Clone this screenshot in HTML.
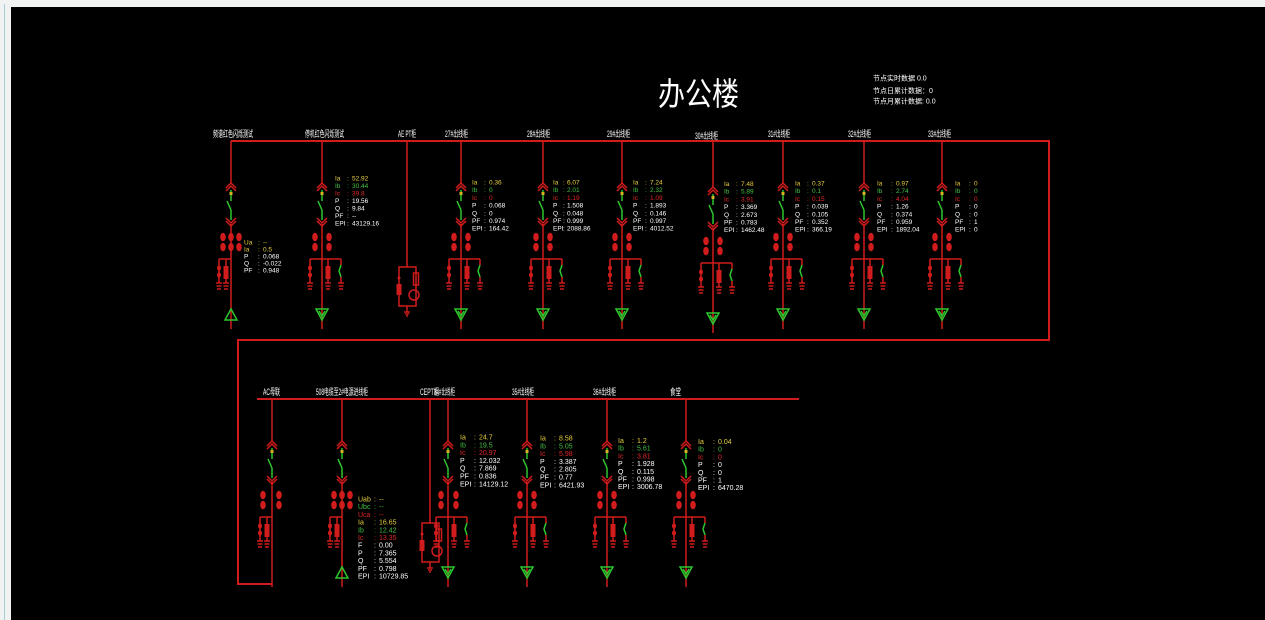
<!DOCTYPE html>
<html><head><meta charset="utf-8">
<style>
html,body{margin:0;padding:0;width:1265px;height:620px;overflow:hidden;background:#f1f2f2;}
svg{display:block;position:absolute;left:0;top:0;}
.r{stroke:#d01c1c;stroke-width:1.5;fill:none}
.b{stroke:#d01c1c;stroke-width:2;fill:none}
.g{stroke:#2ec62e;stroke-width:1.5;fill:none}
.rf{fill:#d01c1c}
text{font-family:"Liberation Sans","Noto Sans CJK SC",sans-serif;}
.y{fill:#e6cf3a}.gn{fill:#45c045}.rd{fill:#e02828}.w{fill:#ffffff}
.lb{fill:#ffffff;font-size:9px}
.t{font-size:6.5px}
.t2{font-size:7px}
</style></head><body>
<svg width="1265" height="620" viewBox="0 0 1265 620" xmlns="http://www.w3.org/2000/svg">
<defs>
<g id="sw">
 <line x1="0" y1="0" x2="0" y2="42" class="r"/>
 <polyline points="-5,47 0,42 5,47" class="r"/>
 <polyline points="-5,50 0,45 5,50" class="r"/>
 <line x1="0" y1="49" x2="0" y2="60" class="g"/>
 <rect x="-1.5" y="51" width="3" height="3" fill="#d8b020"/>
 <line x1="-4" y1="60" x2="0" y2="69" class="g"/>
 <line x1="0" y1="69" x2="0" y2="79" class="g"/>
 <polyline points="-5,77 0,82 5,77" class="r"/>
 <polyline points="-5,80 0,85 5,80" class="r"/>
 <line x1="0" y1="83" x2="0" y2="188" class="r"/>
</g>
<g id="ct" class="rf">
 <ellipse cx="0" cy="96" rx="2.8" ry="4.3"/>
 <ellipse cx="0" cy="106" rx="2.8" ry="4.3"/>
</g>
<g id="gnd">
 <line x1="-3" y1="142" x2="3" y2="142" class="r" stroke-width="1"/>
 <line x1="-2.5" y1="145" x2="2.5" y2="145" class="r" stroke-width="1"/>
 <line x1="-2" y1="148" x2="2" y2="148" class="r" stroke-width="1"/>
</g>
<g id="br">
 <line x1="-12" y1="118" x2="19" y2="118" class="r"/>
 <line x1="-12" y1="118" x2="-12" y2="142" class="r" stroke-width="1"/>
 <ellipse cx="-12" cy="127" rx="2" ry="2.6" class="rf"/>
 <ellipse cx="-12" cy="134" rx="2" ry="2.6" class="rf"/>
 <use href="#gnd" x="-12"/>
 <line x1="6" y1="118" x2="6" y2="142" class="r" stroke-width="1"/>
 <rect x="3.5" y="125" width="5" height="13" class="rf"/>
 <use href="#gnd" x="6"/>
 <line x1="19" y1="118" x2="19" y2="124" class="r" stroke-width="1"/>
 <polyline points="19,124 17,130 19,136" class="g" stroke-width="1"/>
 <line x1="19" y1="136" x2="19" y2="142" class="r" stroke-width="1"/>
 <use href="#gnd" x="19"/>
</g>
<g id="brL">
 <line x1="-12" y1="118" x2="0" y2="118" class="r"/>
 <line x1="-12" y1="118" x2="-12" y2="142" class="r" stroke-width="1"/>
 <ellipse cx="-12" cy="127" rx="2" ry="2.6" class="rf"/>
 <ellipse cx="-12" cy="134" rx="2" ry="2.6" class="rf"/>
 <use href="#gnd" x="-12"/>
 <line x1="-5" y1="118" x2="-5" y2="142" class="r" stroke-width="1"/>
 <rect x="-7.5" y="125" width="5" height="13" class="rf"/>
 <use href="#gnd" x="-5"/>
</g>
<g id="tdn"><polygon points="-6,168 6,168 0,179" class="g"/><polyline points="-3,170 0,175 3,170" class="g" stroke-width="1"/></g>
<g id="tup"><polygon points="-6,179 6,179 0,168" class="g"/></g>
<g id="pt">
 <rect x="-8" y="0" width="17" height="39" class="r" stroke-width="1.2"/>
 <circle cx="-8" cy="11" r="1.5" class="rf"/>
 <rect x="-10.5" y="17" width="5" height="11" class="rf"/>
 <rect x="6.5" y="6" width="5" height="12" class="r" stroke-width="1"/>
 <circle cx="7" cy="28" r="5" class="r" stroke-width="1"/>
 <line x1="0" y1="39" x2="0" y2="45" class="r" stroke-width="1"/>
 <line x1="-3" y1="45" x2="3" y2="45" class="r" stroke-width="1"/>
 <line x1="-2" y1="47" x2="2" y2="47" class="r" stroke-width="1"/>
 <line x1="-1" y1="49" x2="1" y2="49" class="r" stroke-width="1"/>
</g>
</defs>

<rect x="0" y="0" width="1265" height="620" fill="#f1f2f2"/>
<line x1="4.5" y1="4" x2="4.5" y2="620" stroke="#a9cdd6" stroke-width="1"/>
<rect x="11" y="7" width="1254" height="613" fill="#000"/>

<!-- title -->
<text x="658" y="105" font-size="32" fill="#fff" textLength="81" lengthAdjust="spacingAndGlyphs">办公楼</text>
<text x="873" y="80.5" font-size="7" fill="#fff">节点实时数据 0.0</text>
<text x="873" y="93" font-size="7" fill="#fff">节点日累计数据：0</text>
<text x="873" y="103.5" font-size="7" fill="#fff">节点月累计数据: 0.0</text>

<!-- main loop -->
<polyline points="231,141 1049,141 1049,340 238,340 238,584 272,584" class="b"/>
<line x1="257" y1="399" x2="799" y2="399" class="b"/>

<!-- top labels -->
<text class="lb" x="213" y="137" textLength="40" lengthAdjust="spacingAndGlyphs">频谱红色闪烁测试</text>
<text class="lb" x="305" y="137" textLength="39" lengthAdjust="spacingAndGlyphs">停机红色闪烁测试</text>
<text class="lb" x="398" y="137" textLength="18" lengthAdjust="spacingAndGlyphs">AE PT柜</text>
<text class="lb" x="445" y="137" textLength="23" lengthAdjust="spacingAndGlyphs">27#出线柜</text>
<text class="lb" x="527" y="137" textLength="23" lengthAdjust="spacingAndGlyphs">28#出线柜</text>
<text class="lb" x="607" y="137" textLength="23" lengthAdjust="spacingAndGlyphs">29#出线柜</text>
<text class="lb" x="695" y="139" textLength="23" lengthAdjust="spacingAndGlyphs">30#出线柜</text>
<text class="lb" x="768" y="137" textLength="22" lengthAdjust="spacingAndGlyphs">31#出线柜</text>
<text class="lb" x="848" y="137" textLength="23" lengthAdjust="spacingAndGlyphs">32#出线柜</text>
<text class="lb" x="928" y="137" textLength="23" lengthAdjust="spacingAndGlyphs">33#出线柜</text>

<!-- bottom labels -->
<text class="lb" x="263" y="395" textLength="17" lengthAdjust="spacingAndGlyphs">AC母联</text>
<text class="lb" x="316" y="395" textLength="52" lengthAdjust="spacingAndGlyphs">508电缆至2#电源进线柜</text>
<text class="lb" x="420" y="395" textLength="19" lengthAdjust="spacingAndGlyphs">CEPT柜</text>
<text class="lb" x="434" y="395" textLength="21" lengthAdjust="spacingAndGlyphs">34#出线柜</text>
<text class="lb" x="512" y="395" textLength="22" lengthAdjust="spacingAndGlyphs">35#出线柜</text>
<text class="lb" x="593" y="395" textLength="23" lengthAdjust="spacingAndGlyphs">36#出线柜</text>
<text class="lb" x="670" y="395" textLength="11" lengthAdjust="spacingAndGlyphs">食堂</text>

<!-- top feeders -->
<g transform="translate(231,141)"><use href="#sw"/><use href="#ct" x="-8"/><use href="#ct"/><use href="#ct" x="8"/><use href="#brL"/><use href="#tup"/></g>
<g transform="translate(322,141)"><use href="#sw"/><use href="#ct" x="-7"/><use href="#ct" x="7"/><use href="#br"/><use href="#tdn"/></g>
<line x1="407" y1="141" x2="407" y2="267" class="r"/>
<g transform="translate(407,267)"><use href="#pt"/></g>
<g transform="translate(461,141)"><use href="#sw"/><use href="#ct" x="-7"/><use href="#ct" x="7"/><use href="#br"/><use href="#tdn"/></g>
<g transform="translate(543,141)"><use href="#sw"/><use href="#ct" x="-7"/><use href="#ct" x="7"/><use href="#br"/><use href="#tdn"/></g>
<g transform="translate(622,141)"><use href="#sw"/><use href="#ct" x="-7"/><use href="#ct" x="7"/><use href="#br"/><use href="#tdn"/></g>
<line x1="713" y1="141" x2="713" y2="146" class="r"/>
<g transform="translate(713,145)"><use href="#sw"/><use href="#ct" x="-7"/><use href="#ct" x="7"/><use href="#br"/><use href="#tdn"/></g>
<g transform="translate(783,141)"><use href="#sw"/><use href="#ct" x="-7"/><use href="#ct" x="7"/><use href="#br"/><use href="#tdn"/></g>
<g transform="translate(864,141)"><use href="#sw"/><use href="#ct" x="-7"/><use href="#ct" x="7"/><use href="#br"/><use href="#tdn"/></g>
<g transform="translate(942,141)"><use href="#sw"/><use href="#ct" x="-7"/><use href="#ct" x="7"/><use href="#br"/><use href="#tdn"/></g>

<!-- bottom feeders -->
<g transform="translate(272,399)"><use href="#sw"/><use href="#ct" x="-9"/><use href="#ct" x="7"/><use href="#brL"/></g>
<g transform="translate(342,399)"><use href="#sw"/><use href="#ct" x="-8"/><use href="#ct"/><use href="#ct" x="8"/><use href="#brL"/><use href="#tup"/></g>
<line x1="430" y1="399" x2="430" y2="523" class="r"/>
<g transform="translate(430,523)"><use href="#pt"/></g>
<g transform="translate(448,399)"><use href="#sw"/><use href="#ct" x="-7"/><use href="#ct" x="8"/><use href="#br"/><use href="#tdn"/></g>
<g transform="translate(527,399)"><use href="#sw"/><use href="#ct" x="-7"/><use href="#ct" x="7"/><use href="#br"/><use href="#tdn"/></g>
<g transform="translate(607,399)"><use href="#sw"/><use href="#ct" x="-7"/><use href="#ct" x="7"/><use href="#br"/><use href="#tdn"/></g>
<g transform="translate(686,399)"><use href="#sw"/><use href="#ct" x="-7"/><use href="#ct" x="7"/><use href="#br"/><use href="#tdn"/></g>

<!-- data blocks -->
<!-- F1 -->
<g class="t">
<text y="244.5"><tspan x="244" class="y">Ua</tspan><tspan x="258" class="y">:</tspan><tspan x="263" class="y">--</tspan></text>
<text y="251.5"><tspan x="244" class="y">Ia</tspan><tspan x="258" class="y">:</tspan><tspan x="263" class="y">0.5</tspan></text>
<text y="258.5" class="w"><tspan x="244">P</tspan><tspan x="258">:</tspan><tspan x="263">0.068</tspan></text>
<text y="265.5" class="w"><tspan x="244">Q</tspan><tspan x="258">:</tspan><tspan x="263">-0.022</tspan></text>
<text y="272.5" class="w"><tspan x="244">PF</tspan><tspan x="258">:</tspan><tspan x="263">0.948</tspan></text>
</g>
<!-- 停机 -->
<g class="t">
<text y="180.5"><tspan x="335" class="y">Ia</tspan><tspan x="347" class="y">:</tspan><tspan x="352" class="y">52.92</tspan></text>
<text y="188"><tspan x="335" class="gn">Ib</tspan><tspan x="347" class="gn">:</tspan><tspan x="352" class="gn">30.44</tspan></text>
<text y="195.5"><tspan x="335" class="rd">Ic</tspan><tspan x="347" class="rd">:</tspan><tspan x="352" class="rd">39.8</tspan></text>
<text y="203" class="w"><tspan x="335">P</tspan><tspan x="347">:</tspan><tspan x="352">19.56</tspan></text>
<text y="210.5" class="w"><tspan x="335">Q</tspan><tspan x="347">:</tspan><tspan x="352">9.84</tspan></text>
<text y="218" class="w"><tspan x="335">PF</tspan><tspan x="347">:</tspan><tspan x="352">--</tspan></text>
<text y="225.5" class="w"><tspan x="335">EPI</tspan><tspan x="347">:</tspan><tspan x="352">43129.16</tspan></text>
</g>
<!-- 27# -->
<g class="t">
<text y="184.5"><tspan x="472" class="y">Ia</tspan><tspan x="484" class="y">:</tspan><tspan x="489" class="y">0.36</tspan></text>
<text y="192.2"><tspan x="472" class="gn">Ib</tspan><tspan x="484" class="gn">:</tspan><tspan x="489" class="gn">0</tspan></text>
<text y="199.9"><tspan x="472" class="rd">Ic</tspan><tspan x="484" class="rd">:</tspan><tspan x="489" class="rd">0</tspan></text>
<text y="207.6" class="w"><tspan x="472">P</tspan><tspan x="484">:</tspan><tspan x="489">0.068</tspan></text>
<text y="215.3" class="w"><tspan x="472">Q</tspan><tspan x="484">:</tspan><tspan x="489">0</tspan></text>
<text y="223" class="w"><tspan x="472">PF</tspan><tspan x="484">:</tspan><tspan x="489">0.974</tspan></text>
<text y="230.7" class="w"><tspan x="472">EPI</tspan><tspan x="484">:</tspan><tspan x="489">164.42</tspan></text>
</g>
<!-- 28# -->
<g class="t">
<text y="184.5"><tspan x="553" class="y">Ia</tspan><tspan x="563" class="y">:</tspan><tspan x="567" class="y">6.07</tspan></text>
<text y="192.2"><tspan x="553" class="gn">Ib</tspan><tspan x="563" class="gn">:</tspan><tspan x="567" class="gn">2.01</tspan></text>
<text y="199.9"><tspan x="553" class="rd">Ic</tspan><tspan x="563" class="rd">:</tspan><tspan x="567" class="rd">1.19</tspan></text>
<text y="207.6" class="w"><tspan x="553">P</tspan><tspan x="563">:</tspan><tspan x="567">1.508</tspan></text>
<text y="215.3" class="w"><tspan x="553">Q</tspan><tspan x="563">:</tspan><tspan x="567">0.048</tspan></text>
<text y="223" class="w"><tspan x="553">PF</tspan><tspan x="563">:</tspan><tspan x="567">0.999</tspan></text>
<text y="230.7" class="w"><tspan x="553">EPI</tspan><tspan x="563">:</tspan><tspan x="567">2088.86</tspan></text>
</g>
<!-- 29# -->
<g class="t">
<text y="184.5"><tspan x="633" class="y">Ia</tspan><tspan x="645" class="y">:</tspan><tspan x="650" class="y">7.24</tspan></text>
<text y="192.2"><tspan x="633" class="gn">Ib</tspan><tspan x="645" class="gn">:</tspan><tspan x="650" class="gn">2.32</tspan></text>
<text y="199.9"><tspan x="633" class="rd">Ic</tspan><tspan x="645" class="rd">:</tspan><tspan x="650" class="rd">1.09</tspan></text>
<text y="207.6" class="w"><tspan x="633">P</tspan><tspan x="645">:</tspan><tspan x="650">1.893</tspan></text>
<text y="215.3" class="w"><tspan x="633">Q</tspan><tspan x="645">:</tspan><tspan x="650">0.146</tspan></text>
<text y="223" class="w"><tspan x="633">PF</tspan><tspan x="645">:</tspan><tspan x="650">0.997</tspan></text>
<text y="230.7" class="w"><tspan x="633">EPI</tspan><tspan x="645">:</tspan><tspan x="650">4012.52</tspan></text>
</g>
<!-- 30# -->
<g class="t">
<text y="186"><tspan x="724" class="y">Ia</tspan><tspan x="736" class="y">:</tspan><tspan x="741" class="y">7.48</tspan></text>
<text y="193.7"><tspan x="724" class="gn">Ib</tspan><tspan x="736" class="gn">:</tspan><tspan x="741" class="gn">5.89</tspan></text>
<text y="201.4"><tspan x="724" class="rd">Ic</tspan><tspan x="736" class="rd">:</tspan><tspan x="741" class="rd">3.91</tspan></text>
<text y="209.1" class="w"><tspan x="724">P</tspan><tspan x="736">:</tspan><tspan x="741">3.369</tspan></text>
<text y="216.8" class="w"><tspan x="724">Q</tspan><tspan x="736">:</tspan><tspan x="741">2.673</tspan></text>
<text y="224.5" class="w"><tspan x="724">PF</tspan><tspan x="736">:</tspan><tspan x="741">0.783</tspan></text>
<text y="232.2" class="w"><tspan x="724">EPI</tspan><tspan x="736">:</tspan><tspan x="741">1462.48</tspan></text>
</g>
<!-- 31# -->
<g class="t">
<text y="185.5"><tspan x="795" class="y">Ia</tspan><tspan x="807" class="y">:</tspan><tspan x="812" class="y">0.37</tspan></text>
<text y="193.2"><tspan x="795" class="gn">Ib</tspan><tspan x="807" class="gn">:</tspan><tspan x="812" class="gn">0.1</tspan></text>
<text y="200.9"><tspan x="795" class="rd">Ic</tspan><tspan x="807" class="rd">:</tspan><tspan x="812" class="rd">0.15</tspan></text>
<text y="208.6" class="w"><tspan x="795">P</tspan><tspan x="807">:</tspan><tspan x="812">0.039</tspan></text>
<text y="216.3" class="w"><tspan x="795">Q</tspan><tspan x="807">:</tspan><tspan x="812">0.105</tspan></text>
<text y="224" class="w"><tspan x="795">PF</tspan><tspan x="807">:</tspan><tspan x="812">0.352</tspan></text>
<text y="231.7" class="w"><tspan x="795">EPI</tspan><tspan x="807">:</tspan><tspan x="812">366.19</tspan></text>
</g>
<!-- 32# -->
<g class="t">
<text y="185.5"><tspan x="877" class="y">Ia</tspan><tspan x="891" class="y">:</tspan><tspan x="896" class="y">0.97</tspan></text>
<text y="193.2"><tspan x="877" class="gn">Ib</tspan><tspan x="891" class="gn">:</tspan><tspan x="896" class="gn">2.74</tspan></text>
<text y="200.9"><tspan x="877" class="rd">Ic</tspan><tspan x="891" class="rd">:</tspan><tspan x="896" class="rd">4.04</tspan></text>
<text y="208.6" class="w"><tspan x="877">P</tspan><tspan x="891">:</tspan><tspan x="896">1.26</tspan></text>
<text y="216.3" class="w"><tspan x="877">Q</tspan><tspan x="891">:</tspan><tspan x="896">0.374</tspan></text>
<text y="224" class="w"><tspan x="877">PF</tspan><tspan x="891">:</tspan><tspan x="896">0.959</tspan></text>
<text y="231.7" class="w"><tspan x="877">EPI</tspan><tspan x="891">:</tspan><tspan x="896">1892.04</tspan></text>
</g>
<!-- 33# -->
<g class="t">
<text y="185.5"><tspan x="955" class="y">Ia</tspan><tspan x="969" class="y">:</tspan><tspan x="974" class="y">0</tspan></text>
<text y="193.2"><tspan x="955" class="gn">Ib</tspan><tspan x="969" class="gn">:</tspan><tspan x="974" class="gn">0</tspan></text>
<text y="200.9"><tspan x="955" class="rd">Ic</tspan><tspan x="969" class="rd">:</tspan><tspan x="974" class="rd">0</tspan></text>
<text y="208.6" class="w"><tspan x="955">P</tspan><tspan x="969">:</tspan><tspan x="974">0</tspan></text>
<text y="216.3" class="w"><tspan x="955">Q</tspan><tspan x="969">:</tspan><tspan x="974">0</tspan></text>
<text y="224" class="w"><tspan x="955">PF</tspan><tspan x="969">:</tspan><tspan x="974">1</tspan></text>
<text y="231.7" class="w"><tspan x="955">EPI</tspan><tspan x="969">:</tspan><tspan x="974">0</tspan></text>
</g>
<!-- 508# -->
<g class="t2">
<text y="501.5"><tspan x="358" class="y">Uab</tspan><tspan x="374" class="y">:</tspan><tspan x="379" class="y">--</tspan></text>
<text y="509.2"><tspan x="358" class="gn">Ubc</tspan><tspan x="374" class="gn">:</tspan><tspan x="379" class="gn">--</tspan></text>
<text y="516.9"><tspan x="358" class="rd">Uca</tspan><tspan x="374" class="rd">:</tspan><tspan x="379" class="rd">--</tspan></text>
<text y="524.6"><tspan x="358" class="y">Ia</tspan><tspan x="374" class="y">:</tspan><tspan x="379" class="y">16.65</tspan></text>
<text y="532.3"><tspan x="358" class="gn">Ib</tspan><tspan x="374" class="gn">:</tspan><tspan x="379" class="gn">12.42</tspan></text>
<text y="540"><tspan x="358" class="rd">Ic</tspan><tspan x="374" class="rd">:</tspan><tspan x="379" class="rd">13.35</tspan></text>
<text y="547.7" class="w"><tspan x="358">F</tspan><tspan x="374">:</tspan><tspan x="379">0.00</tspan></text>
<text y="555.4" class="w"><tspan x="358">P</tspan><tspan x="374">:</tspan><tspan x="379">7.365</tspan></text>
<text y="563.1" class="w"><tspan x="358">Q</tspan><tspan x="374">:</tspan><tspan x="379">5.554</tspan></text>
<text y="570.8" class="w"><tspan x="358">PF</tspan><tspan x="374">:</tspan><tspan x="379">0.798</tspan></text>
<text y="578.5" class="w"><tspan x="358">EPI</tspan><tspan x="374">:</tspan><tspan x="379">10729.85</tspan></text>
</g>
<!-- 34# -->
<g class="t2">
<text y="439.5"><tspan x="460" class="y">Ia</tspan><tspan x="474" class="y">:</tspan><tspan x="479" class="y">24.7</tspan></text>
<text y="447.3"><tspan x="460" class="gn">Ib</tspan><tspan x="474" class="gn">:</tspan><tspan x="479" class="gn">19.5</tspan></text>
<text y="455.1"><tspan x="460" class="rd">Ic</tspan><tspan x="474" class="rd">:</tspan><tspan x="479" class="rd">20.97</tspan></text>
<text y="462.9" class="w"><tspan x="460">P</tspan><tspan x="474">:</tspan><tspan x="479">12.032</tspan></text>
<text y="470.7" class="w"><tspan x="460">Q</tspan><tspan x="474">:</tspan><tspan x="479">7.869</tspan></text>
<text y="478.5" class="w"><tspan x="460">PF</tspan><tspan x="474">:</tspan><tspan x="479">0.836</tspan></text>
<text y="486.3" class="w"><tspan x="460">EPI</tspan><tspan x="474">:</tspan><tspan x="479">14129.12</tspan></text>
</g>
<!-- 35# -->
<g class="t2">
<text y="440.5"><tspan x="540" class="y">Ia</tspan><tspan x="554" class="y">:</tspan><tspan x="559" class="y">8.58</tspan></text>
<text y="448.3"><tspan x="540" class="gn">Ib</tspan><tspan x="554" class="gn">:</tspan><tspan x="559" class="gn">5.05</tspan></text>
<text y="456.1"><tspan x="540" class="rd">Ic</tspan><tspan x="554" class="rd">:</tspan><tspan x="559" class="rd">5.98</tspan></text>
<text y="463.9" class="w"><tspan x="540">P</tspan><tspan x="554">:</tspan><tspan x="559">3.387</tspan></text>
<text y="471.7" class="w"><tspan x="540">Q</tspan><tspan x="554">:</tspan><tspan x="559">2.805</tspan></text>
<text y="479.5" class="w"><tspan x="540">PF</tspan><tspan x="554">:</tspan><tspan x="559">0.77</tspan></text>
<text y="487.3" class="w"><tspan x="540">EPI</tspan><tspan x="554">:</tspan><tspan x="559">6421.93</tspan></text>
</g>
<!-- 36# -->
<g class="t2">
<text y="443"><tspan x="618" class="y">Ia</tspan><tspan x="632" class="y">:</tspan><tspan x="637" class="y">1.2</tspan></text>
<text y="450.7"><tspan x="618" class="gn">Ib</tspan><tspan x="632" class="gn">:</tspan><tspan x="637" class="gn">5.61</tspan></text>
<text y="458.4"><tspan x="618" class="rd">Ic</tspan><tspan x="632" class="rd">:</tspan><tspan x="637" class="rd">3.81</tspan></text>
<text y="466.1" class="w"><tspan x="618">P</tspan><tspan x="632">:</tspan><tspan x="637">1.928</tspan></text>
<text y="473.8" class="w"><tspan x="618">Q</tspan><tspan x="632">:</tspan><tspan x="637">0.115</tspan></text>
<text y="481.5" class="w"><tspan x="618">PF</tspan><tspan x="632">:</tspan><tspan x="637">0.998</tspan></text>
<text y="489.2" class="w"><tspan x="618">EPI</tspan><tspan x="632">:</tspan><tspan x="637">3006.78</tspan></text>
</g>
<!-- 食堂 -->
<g class="t2">
<text y="444"><tspan x="698" class="y">Ia</tspan><tspan x="713" class="y">:</tspan><tspan x="718" class="y">0.04</tspan></text>
<text y="451.7"><tspan x="698" class="gn">Ib</tspan><tspan x="713" class="gn">:</tspan><tspan x="718" class="gn">0</tspan></text>
<text y="459.4"><tspan x="698" class="rd">Ic</tspan><tspan x="713" class="rd">:</tspan><tspan x="718" class="rd">0</tspan></text>
<text y="467.1" class="w"><tspan x="698">P</tspan><tspan x="713">:</tspan><tspan x="718">0</tspan></text>
<text y="474.8" class="w"><tspan x="698">Q</tspan><tspan x="713">:</tspan><tspan x="718">0</tspan></text>
<text y="482.5" class="w"><tspan x="698">PF</tspan><tspan x="713">:</tspan><tspan x="718">1</tspan></text>
<text y="490.2" class="w"><tspan x="698">EPI</tspan><tspan x="713">:</tspan><tspan x="718">6470.28</tspan></text>
</g>
</svg>
</body></html>
